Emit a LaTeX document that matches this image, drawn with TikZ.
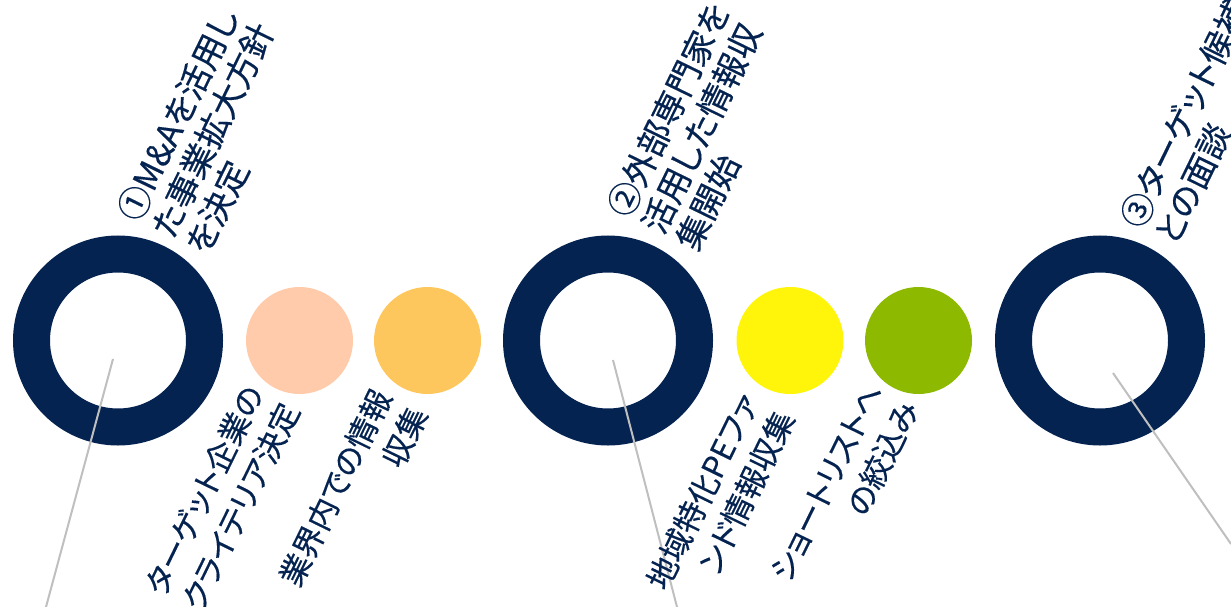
\documentclass[tikz,border=0pt]{standalone}
\usepackage{fontspec}
\newfontfamily\jp[RawFeature={+palt},FakeBold=0.4]{Noto Sans CJK JP}
\definecolor{navy}{HTML}{052350}
\definecolor{peach}{HTML}{FFCBAA}
\definecolor{amber}{HTML}{FEC75E}
\definecolor{lemon}{HTML}{FFF50B}
\definecolor{olive}{HTML}{8DBA00}
\definecolor{leadgray}{HTML}{BFBFBF}
\begin{document}
\begin{tikzpicture}[x=1pt,y=-1pt,
  ring/.style={circle, draw=navy, line width=37pt, minimum size=173pt, inner sep=0pt},
  dot/.style={circle, fill=#1, minimum size=107pt, inner sep=0pt},
  lbl/.style={rotate=64, inner sep=0pt, text=navy},
  toplabel/.style={lbl, anchor=north west, align=left, font=\jp\fontsize{33.5}{38}\selectfont},
  botlabel/.style={lbl, anchor=north east, align=right, font=\jp\fontsize{31}{40}\selectfont},
  leader/.style={draw=leadgray, line width=2pt}]
\useasboundingbox (0,0) rectangle (1231,607);
\clip (0,0) rectangle (1231,607);
% rings and dots
\node[ring] (r1) at (118,340.5) {};
\node[ring] (r2) at (608,340.5) {};
\node[ring] (r3) at (1100,340.5) {};
\node[dot=peach] (d1) at (299.5,340.5) {};
\node[dot=amber] (d2) at (427.5,340.5) {};
\node[dot=lemon] (d3) at (790,340.5) {};
\node[dot=olive] (d4) at (918.5,340.5) {};
% leader lines
\coordinate (l1s) at (113,359);
\coordinate (l1e) at (46,607);
\coordinate (l2s) at (613,360);
\coordinate (l2e) at (677,607);
\coordinate (l3s) at (1113,373);
\coordinate (l3e) at (1231,544);
\draw[leader] (l1s) -- (l1e);
\draw[leader] (l2s) -- (l2e);
\draw[leader] (l3s) -- (l3e);
% labels
\node[toplabel] (t1) at (113,211) {①M\&Aを活用し\\た事業拡大方針\\を決定};
\node[toplabel] (t2) at (603,207) {②外部専門家を\\活用した情報収\\集開始};
\node[toplabel] (t3) at (1116,218) {③ターゲット候補\\との面談};
\node[botlabel] (b1) at (241,381) {ターゲット企業の\\クライテリア決定};
\node[botlabel] (b2) at (369,385) {業界内での情報\\収集};
\node[botlabel] (b3) at (736,389) {地域特化PEファ\\ンド情報収集};
\node[botlabel] (b4) at (862,380) {ショートリストへ\\の絞込み};
\end{tikzpicture}
\end{document}
